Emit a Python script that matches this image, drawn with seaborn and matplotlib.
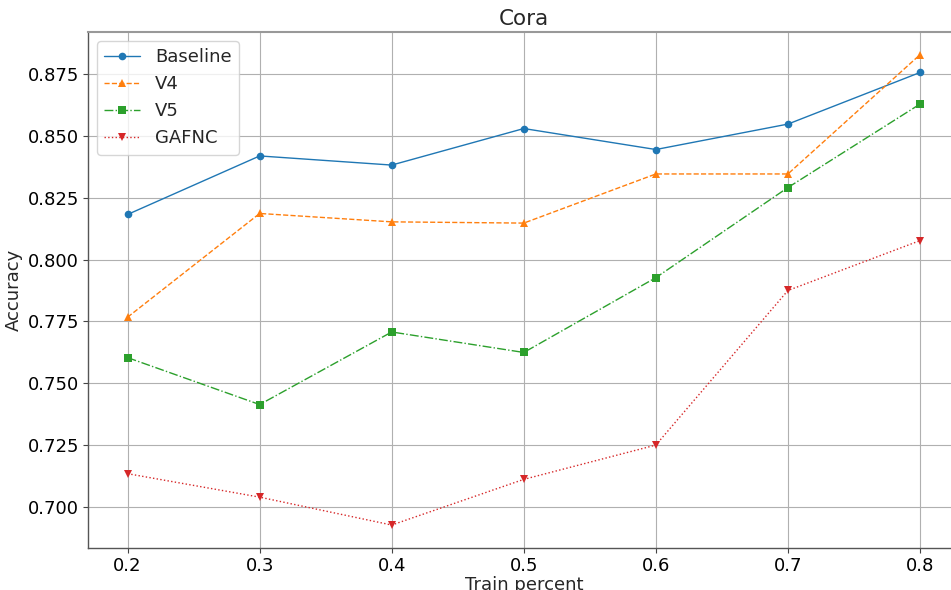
import matplotlib
matplotlib.use("Agg")
import matplotlib.pyplot as plt
import seaborn as sns
import pandas as pd

train_percent = [0.2, 0.3, 0.4, 0.5, 0.6, 0.7, 0.8]
baseline = [0.8183, 0.8420, 0.8383, 0.8531, 0.8446, 0.8549, 0.8758]
v4 = [0.7767, 0.8187, 0.8153, 0.8148, 0.8347, 0.8347, 0.8830]
v5 = [0.7603, 0.7413, 0.7707, 0.7624, 0.7927, 0.8292, 0.8630]
gafnc = [0.7133, 0.7038, 0.6925, 0.7110, 0.7249, 0.7875, 0.8077]

series = [("Baseline", baseline, "o", "-", "#1f77b4"),
          ("V4", v4, "^", "--", "#ff7f0e"),
          ("V5", v5, "s", "-.", "#2ca02c"),
          ("GAFNC", gafnc, "v", ":", "#d62728")]

sns.set_style("white")
plt.rcParams['font.family'] = ['DejaVu Sans']

fig = plt.figure(figsize=(9.51, 5.90), dpi=100)
W, H = 951, 590
left, right, top, bottom = 88, 959.6, 32, 548
ax = fig.add_axes([left / W, 1 - bottom / H, (right - left) / W, (bottom - top) / H])

for name, vals, mk, ls, col in series:
    df = pd.DataFrame({"x": train_percent, "y": vals})
    sns.lineplot(data=df, x="x", y="y", ax=ax, label=name, marker=mk,
                 linestyle=ls, color=col, linewidth=1, markersize=5.5,
                 markeredgewidth=0)

ax.set_xticks([0.2, 0.3, 0.4, 0.5, 0.6, 0.7, 0.8])
ax.set_xticklabels(["0.2", "0.3", "0.4", "0.5", "0.6", "0.7", "0.8"])
ax.set_yticks([0.700, 0.725, 0.750, 0.775, 0.800, 0.825, 0.850, 0.875])
ax.set_yticklabels(["0.700", "0.725", "0.750", "0.775", "0.800", "0.825", "0.850", "0.875"])
ax.set_xlim(0.17, 0.83)
ax.set_ylim(0.6832, 0.8922)
ax.grid(True, color="#b0b0b0", linewidth=0.8)
ax.tick_params(axis="both", labelsize=13, length=3.5, width=0.8, colors="#444444",
               labelcolor="black", bottom=True, left=True, pad=3)
ax.set_xlabel("Train percent", fontsize=13, labelpad=1)
ax.set_ylabel("Accuracy", fontsize=13, labelpad=3)
ax.set_title("Cora", fontsize=15.5, pad=5)
for s in ["left", "bottom"]:
    ax.spines[s].set_color("#555555")
    ax.spines[s].set_linewidth(1.0)
for s in ["top", "right"]:
    ax.spines[s].set_color("#999999")
    ax.spines[s].set_linewidth(1.5)
leg = ax.legend(loc="upper left", fontsize=13, framealpha=0.8, edgecolor="#cccccc")

fig.savefig("out.png", dpi=100)
